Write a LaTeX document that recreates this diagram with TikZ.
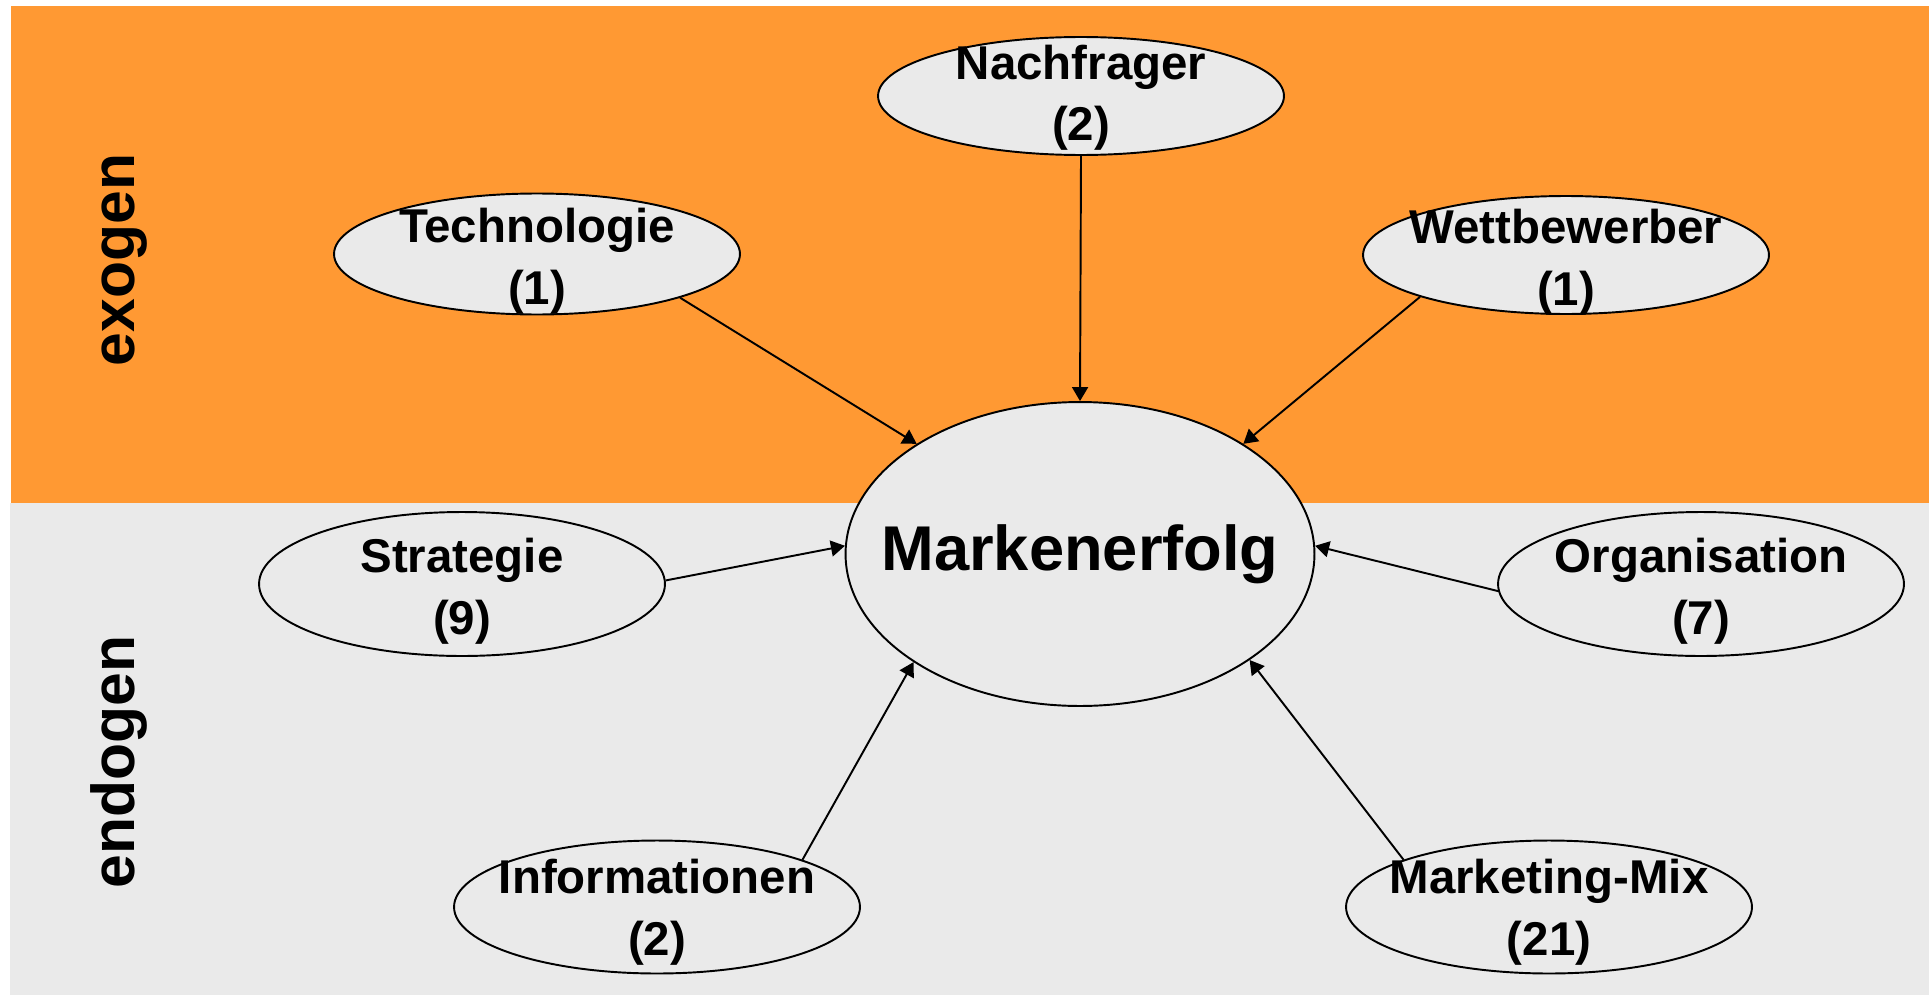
\documentclass[tikz,border=0pt]{standalone}
\usepackage{fontspec}
\setmainfont{Liberation Sans}
\usetikzlibrary{shapes.geometric,arrows.meta}
\definecolor{exoorange}{RGB}{255,153,51}
\definecolor{endogray}{RGB}{234,234,234}

\begin{document}
\begin{tikzpicture}[x=0.02cm,y=-0.02cm,
  factor/.style={ellipse,draw,fill=endogray,line width=1.1pt,inner sep=0pt,
    minimum width=8.12cm},
  factortext/.style={align=center,font=\fontsize{27}{35}\selectfont\bfseries},
  effect/.style={-{Triangle[length=0.28cm,width=0.32cm]},line width=1.1pt},
  side/.style={rotate=90,anchor=base,inner sep=0pt,font=\fontsize{34.5}{40}\selectfont\bfseries}]
\useasboundingbox (0,0) rectangle (1932,997);
\fill[exoorange] (11,6) rectangle (1929,503);
\fill[endogray] (10,503) rectangle (1929,995);

\node[side] (exo) at (134,260) {exogen};
\node[side] (endo) at (134,762) {endogen};

% Zentrum
\node[factor,minimum width=9.38cm,minimum height=6.08cm,
  label={[font=\fontsize{36}{40}\selectfont\bfseries]center:Markenerfolg}] (mark) at (1080,554) {};

% exogene Faktoren
\node[factor,minimum height=2.36cm,label={[factortext,yshift=-1pt]center:Nachfrager\\(2)}] (nach) at (1081,96) {};
\node[factor,minimum height=2.42cm,label={[factortext,yshift=-4pt]center:Technologie\\(1)}] (tech) at (537,254) {};
\node[factor,minimum height=2.36cm,label={[factortext,yshift=-4pt]center:Wettbewerber\\(1)}] (wett) at (1566,255) {};

% endogene Faktoren
\node[factor,minimum height=2.88cm,label={[factortext,yshift=-4pt]center:Strategie\\(9)}] (strat) at (462,584) {};
\node[factor,minimum height=2.88cm,label={[factortext,yshift=-4pt]center:Organisation\\(7)}] (orga) at (1701,584) {};
\node[factor,minimum height=2.66cm,label={[factortext,yshift=-3pt]center:Informationen\\(2)}] (info) at (657,907) {};
\node[factor,minimum height=2.66cm,label={[factortext,yshift=-3pt]center:Marketing-Mix\\(21)}] (mix) at (1549,907) {};

\draw[effect] (nach.south) -- (mark.north);
\draw[effect] (tech.-17) -- (mark.146);
\draw[effect] (wett.-164) -- (mark.34);
\draw[effect] (strat.1) -- (mark.178);
\draw[effect] (orga.-178) -- (mark.2);
\draw[effect] (info.18) -- (mark.-147);
\draw[effect] (mix.162) -- (mark.-32);
\end{tikzpicture}
\end{document}
